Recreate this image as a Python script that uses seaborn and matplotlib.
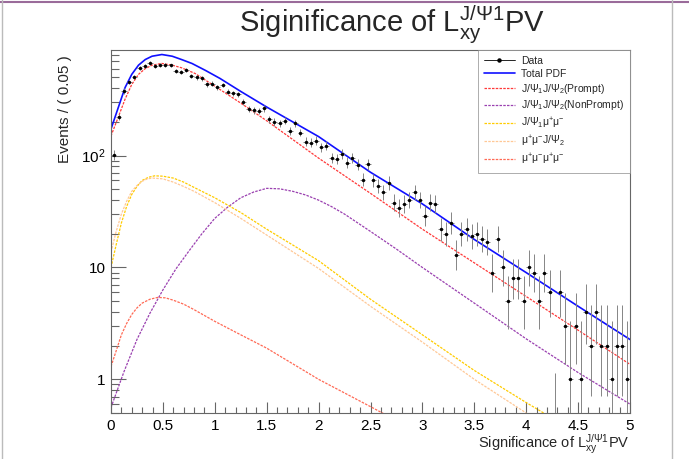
import math
import numpy as np
import pandas as pd
import matplotlib
matplotlib.use("Agg")
import matplotlib.pyplot as plt
import seaborn as sns
from matplotlib.ticker import FixedLocator, FixedFormatter, MultipleLocator, LogLocator, NullFormatter
from matplotlib.lines import Line2D

# ---------------- data ----------------
bin_low = 0.0
bin_width = 0.05
counts = [102, 222, 378, 457, 504, 609, 631, 676, 631, 650,
          645, 640, 570, 560, 585, 515, 500, 490, 435, 440,
          410, 428, 373, 361, 353, 302, 260, 254, 251, 264,
          212, 200, 194, 205, 167, 194, 161, 133, 131, 136,
          119, 123, 95, 93, 103, 86, 95, 83, 61, 84,
          60, 54, 47, 57, 38, 34, 37, 40, 47, 40,
          29, 38, 37, 22, 20, 25, 13, 20, 22, 19,
          20, 18, 17, 9, 18, 10, 5, 8, 8, 5,
          10, 9, 5, 9, 6, 0, 6, 3, 1, 3,
          1, 4, 2, 4, 2, 2, 1, 2, 2, 1]

total_x = [0.0, 0.07, 0.135, 0.2, 0.265, 0.33, 0.395, 0.49, 0.59, 0.68, 0.78, 0.91, 1.05,
           1.25, 1.5, 2.0, 2.5, 3.0, 3.5, 4.0, 4.5, 5.0]
total_y = [173, 269, 405, 533, 644, 723, 774, 802, 774, 723, 667, 578, 490,
           375, 272, 148, 71, 37, 17.8, 9.0, 4.5, 2.27]

prompt_x = [0.0, 0.07, 0.135, 0.2, 0.265, 0.33, 0.395, 0.49, 0.59, 0.68, 0.81, 1.05,
            1.25, 1.5, 2.0, 2.5, 3.0, 3.5, 4.0, 4.5, 5.0]
prompt_y = [150, 221, 319, 433, 533, 600, 644, 667, 644, 610, 543, 390,
            295, 205, 95, 46, 22, 11, 5.5, 2.75, 1.36]

nonprompt_x = [0.0, 0.125, 0.25, 0.375, 0.5, 0.625, 0.75, 0.875, 1.0, 1.125, 1.25, 1.375,
               1.5, 1.625, 1.75, 1.875, 2.0, 2.125, 2.25, 2.5, 2.75, 3.0, 3.5, 4.0, 4.5, 5.0]
nonprompt_y = [0.56, 1.17, 2.27, 3.9, 6.3, 9.7, 14, 20, 27.5, 34.7, 42, 47.3,
               51, 50.5, 48, 44.5, 40, 35, 30, 21, 14.6, 10, 4.8, 2.3, 1.15, 0.6]

jpsimumu_x = [0.0, 0.05, 0.1, 0.15, 0.2, 0.25, 0.3, 0.36, 0.42, 0.5, 0.6, 0.7, 0.8, 1.0,
              1.25, 1.5, 2.0, 2.5, 3.0, 3.5, 4.0, 4.2]
jpsimumu_y = [10, 16, 25, 35, 45, 53, 60, 64, 66, 65.5, 63, 58, 52, 42,
              31, 22, 11.5, 5.2, 2.5, 1.2, 0.62, 0.48]

mumujpsi_x = [0.0, 0.05, 0.1, 0.15, 0.2, 0.25, 0.3, 0.35, 0.4, 0.5, 0.6, 0.7, 0.8, 1.0,
              1.25, 1.5, 2.0, 2.5, 3.0, 3.5, 4.0]
mumujpsi_y = [13.7, 21, 30, 39, 48, 54, 59, 62, 63, 62, 58, 53, 48, 38,
              27.5, 19.5, 9.8, 4.5, 2.15, 1.0, 0.5]

fourmu_x = [0.0, 0.05, 0.1, 0.15, 0.2, 0.25, 0.3, 0.375, 0.45, 0.525, 0.6, 0.7, 0.8, 1.0,
            1.25, 1.5, 2.0, 2.5, 2.65]
fourmu_y = [1.3, 1.8, 2.5, 3.15, 3.8, 4.35, 4.8, 5.2, 5.4, 5.35, 5.1, 4.7, 4.2, 3.3,
            2.5, 1.9, 1.0, 0.57, 0.48]

labels = ["Data", "Total PDF",
          r"$\mathregular{J/Ψ_{1}J/Ψ_{2}(Prompt)}$",
          r"$\mathregular{J/Ψ_{1}J/Ψ_{2}(NonPrompt)}$",
          r"$\mathregular{J/Ψ_{1}μ^{+}μ^{-}}$",
          r"$\mathregular{μ^{+}μ^{-}J/Ψ_{2}}$",
          r"$\mathregular{μ^{+}μ^{-}μ^{+}μ^{-}}$"]
title = r"Siginificance of $\mathregular{L_{xy}^{J/Ψ1}}$PV"
xlabel = r"Significance of $\mathregular{L_{xy}^{J/Ψ1}}$PV"
ylabel = "Events / ( 0.05 )"


# ---------------- Poisson (Garwood) error bars ----------------
def pois_cdf(n, mu):
    if mu <= 0:
        return 1.0
    s = 0.0
    for k in range(n + 1):
        s += math.exp(-mu + k * math.log(mu) - math.lgamma(k + 1))
    return s


def solve(f, target, lo, hi):
    for _ in range(80):
        mid = 0.5 * (lo + hi)
        if f(mid) > target:
            lo = mid
        else:
            hi = mid
    return 0.5 * (lo + hi)


alpha = 0.5 * (1 - 0.682689)
err_lo, err_hi = [], []
for n in counts:
    top = n + 10 * math.sqrt(n + 1) + 10
    if n == 0:
        err_lo.append(0.0)
        err_hi.append(-math.log(1 - 0.682689))
    else:
        up = solve(lambda m: pois_cdf(n, m), alpha, 0.0, top)
        lo = solve(lambda m: pois_cdf(n - 1, m), 1 - alpha, 0.0, top)
        err_lo.append(n - lo)
        err_hi.append(up - n)

centers = bin_low + bin_width * (np.arange(len(counts)) + 0.5)
df = pd.DataFrame({"x": centers, "n": counts})

# ---------------- figure ----------------
sns.set_style("ticks")
plt.rcParams["font.family"] = ["Liberation Sans", "DejaVu Sans"]
plt.rcParams["mathtext.fontset"] = "custom"
plt.rcParams["mathtext.rm"] = "Liberation Sans"
plt.rcParams["mathtext.it"] = "Liberation Sans:italic"

W, H = 689, 459
fig = plt.figure(figsize=(W / 100, H / 100), dpi=100)
L, R, T, B = 111, 630, 50, 413
ax = fig.add_axes([L / W, 1 - B / H, (R - L) / W, (B - T) / H])

ax.set_yscale("log")
ax.set_xlim(0, 5)
ax.set_ylim(0.5, 880)

dash = (0, (2.0, 1.0))
c_prompt, c_nonprompt, c_jm, c_mj, c_4m = "#ff3838", "#9a40b0", "#ffcc00", "#ffc896", "#ff6a55"
curves = [
    (prompt_x, prompt_y, c_prompt),
    (nonprompt_x, nonprompt_y, c_nonprompt),
    (jpsimumu_x, jpsimumu_y, c_jm),
    (mumujpsi_x, mumujpsi_y, c_mj),
    (fourmu_x, fourmu_y, c_4m),
]
for cx, cy, col in curves:
    sns.lineplot(x=cx, y=cy, ax=ax, color=col, linestyle=dash, linewidth=0.9)

sns.lineplot(x=total_x, y=total_y, ax=ax, color="#1010ff", linewidth=1.2)

# data
ax.errorbar(df["x"], df["n"], yerr=[err_lo, err_hi], xerr=bin_width / 2,
            fmt="none", ecolor="#858585", elinewidth=0.7, capsize=0, zorder=3)
sns.scatterplot(data=df[df["n"] > 0], x="x", y="n", ax=ax, color="black",
                s=6, marker="o", edgecolor="black", linewidth=0, zorder=4)

# axes style
for sp in ax.spines.values():
    sp.set_linewidth(0.8)
    sp.set_color("#666666")
ax.tick_params(which="both", direction="in", top=False, right=False,
               colors="#666666", labelcolor="black", width=0.8)
ax.tick_params(axis="x", which="major", length=8, labelsize=11, pad=4)
ax.tick_params(axis="x", which="minor", length=4)
ax.tick_params(axis="y", which="major", length=11, labelsize=11, pad=4)
ax.tick_params(axis="y", which="minor", length=6)
ax.xaxis.set_major_locator(FixedLocator([0, 0.5, 1, 1.5, 2, 2.5, 3, 3.5, 4, 4.5, 5]))
ax.xaxis.set_major_formatter(FixedFormatter(["0", "0.5", "1", "1.5", "2", "2.5", "3", "3.5", "4", "4.5", "5"]))
ax.xaxis.set_minor_locator(MultipleLocator(0.1))
ax.yaxis.set_major_locator(FixedLocator([1, 10, 100]))
ax.yaxis.set_major_formatter(FixedFormatter(["1", "10", r"$\mathregular{10^{2}}$"]))
ax.yaxis.set_minor_locator(LogLocator(base=10, subs=np.arange(2, 10)))
ax.yaxis.set_minor_formatter(NullFormatter())
ax.set_xlabel("")
ax.set_ylabel("")

fig.text(392 / W, 1 - 25 / H, title, ha="center", va="center", fontsize=21)
fig.text(R / W, 1 - 444 / H, xlabel, ha="right", va="center", fontsize=10.5)
fig.text(65 / W, 1 - 55 / H, ylabel, ha="center", va="top", rotation=90, fontsize=11)

# legend
handles = [Line2D([0], [0], color="black", marker="o", markersize=2.2, linewidth=0.6),
           Line2D([0], [0], color="#1010ff", linewidth=1.2)]
handles += [Line2D([0], [0], color=c, linestyle=dash, linewidth=0.9)
            for c in (c_prompt, c_nonprompt, c_jm, c_mj, c_4m)]
leg = ax.legend(handles, labels, loc="upper right", bbox_to_anchor=(R / W, 1 - 50 / H),
                bbox_transform=fig.transFigure, fontsize=7.5, frameon=True, fancybox=False,
                edgecolor="#888888", borderpad=0.55, labelspacing=0.28, handlelength=3.0,
                handletextpad=0.6, borderaxespad=0)
leg.get_frame().set_linewidth(0.6)

# canvas border lines
fig.add_artist(Line2D([0, 1], [1 - 1.5 / H, 1 - 1.5 / H], color="#9a6b9a", linewidth=1.5, transform=fig.transFigure))
fig.add_artist(Line2D([1.5 / W, 1.5 / W], [0, 1], color="#bbbbbb", linewidth=1.0, transform=fig.transFigure))
fig.add_artist(Line2D([672 / W, 672 / W], [0, 1], color="#bbbbbb", linewidth=1.0, transform=fig.transFigure))

fig.savefig("out.png", dpi=100)
